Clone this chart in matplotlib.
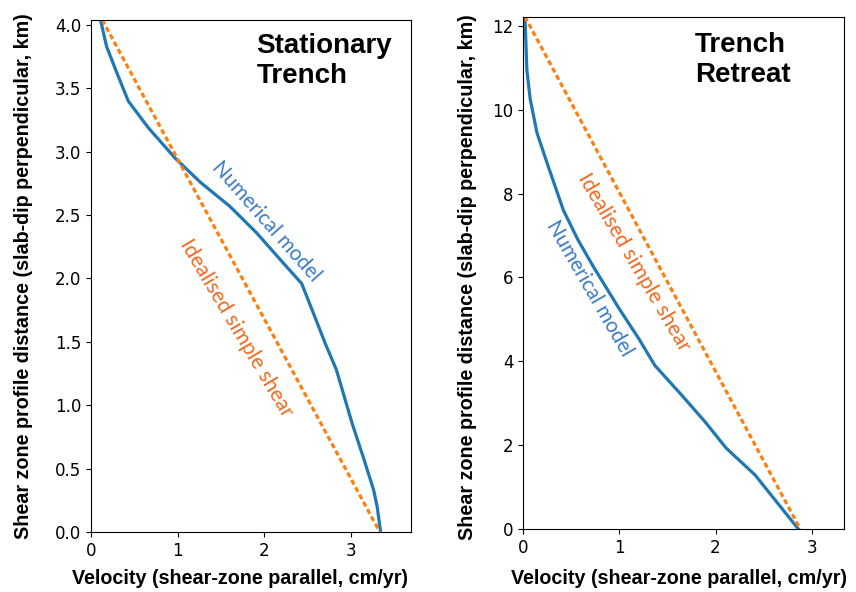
import numpy as np
import matplotlib
matplotlib.use("Agg")
import matplotlib.pyplot as plt

## Stationary trench profile
stat_vel = [0.11, 0.18, 0.30, 0.43, 0.66, 0.97, 1.26, 1.60, 1.91, 2.22,
            2.43, 2.58, 2.70, 2.83, 3.01, 3.14, 3.26, 3.30, 3.34]
stat_dist = [4.04, 3.83, 3.62, 3.40, 3.19, 2.95, 2.76, 2.57, 2.36, 2.12,
             1.96, 1.70, 1.49, 1.28, 0.86, 0.59, 0.33, 0.20, 0.0]
stat_shear_vel = [0.13, 3.33]
stat_shear_dist = [4.04, 0.0]

## Trench retreat profile
retr_vel = [0.02, 0.03, 0.04, 0.075, 0.145, 0.25, 0.42, 0.57, 0.73, 0.88,
            1.00, 1.20, 1.37, 1.63, 1.89, 2.11, 2.41, 2.86]
retr_dist = [12.22, 11.6, 10.95, 10.25, 9.45, 8.73, 7.6, 6.9, 6.26, 5.7,
             5.25, 4.55, 3.9, 3.24, 2.56, 1.93, 1.29, 0.0]
retr_shear_vel = [0.02, 2.88]
retr_shear_dist = [12.22, 0.0]

xlabel = "Velocity (shear-zone parallel, cm/yr)"
ylabel = "Shear zone profile distance (slab-dip perpendicular, km)"
lab_font = dict(family="Liberation Sans", weight="bold", size=14.2)
note_font = "Lato"
blue_txt = "#3d7cc4"
orange_txt = "#ee6a1f"

fig = plt.figure(figsize=(8.56, 5.92), dpi=100)
ax1 = fig.add_axes([0.1063, 0.1014, 0.3738, 0.8649])
ax2 = fig.add_axes([0.6110, 0.1064, 0.3745, 0.8654])

for ax, v, d, sv, sd in [(ax1, stat_vel, stat_dist, stat_shear_vel, stat_shear_dist),
                         (ax2, retr_vel, retr_dist, retr_shear_vel, retr_shear_dist)]:
    ax.plot(v, d, color="C0", linewidth=2.3)
    ax.plot(sv, sd, color="C1", linewidth=2.3, dashes=(1.6, 1.0))
    ax.set_xlabel(xlabel, fontdict=lab_font)
    ax.set_ylabel(ylabel, fontdict=lab_font)
    ax.tick_params(labelsize=12)
    ax.set_xticks([0, 1, 2, 3])

ax1.set_xlim(0, 3.69)
ax1.set_ylim(0, 4.04)
ax1.set_yticks(np.arange(0, 4.01, 0.5))
ax2.set_xlim(0, 3.33)
ax2.set_ylim(0, 12.22)
ax2.set_yticks(np.arange(0, 12.1, 2))

ax1.xaxis.set_label_coords(0.466, -0.072)
ax1.yaxis.set_label_coords(-0.181, 0.5)
ax2.xaxis.set_label_coords(0.486, -0.079)
ax2.yaxis.set_label_coords(-0.143, 0.491)

ax1.text(0.517, 0.975, "Stationary\nTrench", transform=ax1.transAxes,
         family="Liberation Sans", weight="bold", size=20, va="top", ha="left")
ax2.text(0.536, 0.97, "Trench\nRetreat", transform=ax2.transAxes,
         family="Liberation Sans", weight="bold", size=20, va="top", ha="left")

ax1.text(2.02, 2.45, "Numerical model", color=blue_txt, family=note_font,
         size=14.8, rotation=-48.5, rotation_mode="anchor", ha="center", va="center")
ax1.text(1.68, 1.61, "Idealised simple shear", color=orange_txt, family=note_font,
         size=15.2, rotation=-59.3, rotation_mode="anchor", ha="center", va="center")
ax2.text(0.69, 5.75, "Numerical model", color=blue_txt, family=note_font,
         size=14.8, rotation=-60, rotation_mode="anchor", ha="center", va="center")
ax2.text(1.15, 6.37, "Idealised simple shear", color=orange_txt, family=note_font,
         size=15.2, rotation=-59.5, rotation_mode="anchor", ha="center", va="center")

fig.savefig("out.png", dpi=100)
